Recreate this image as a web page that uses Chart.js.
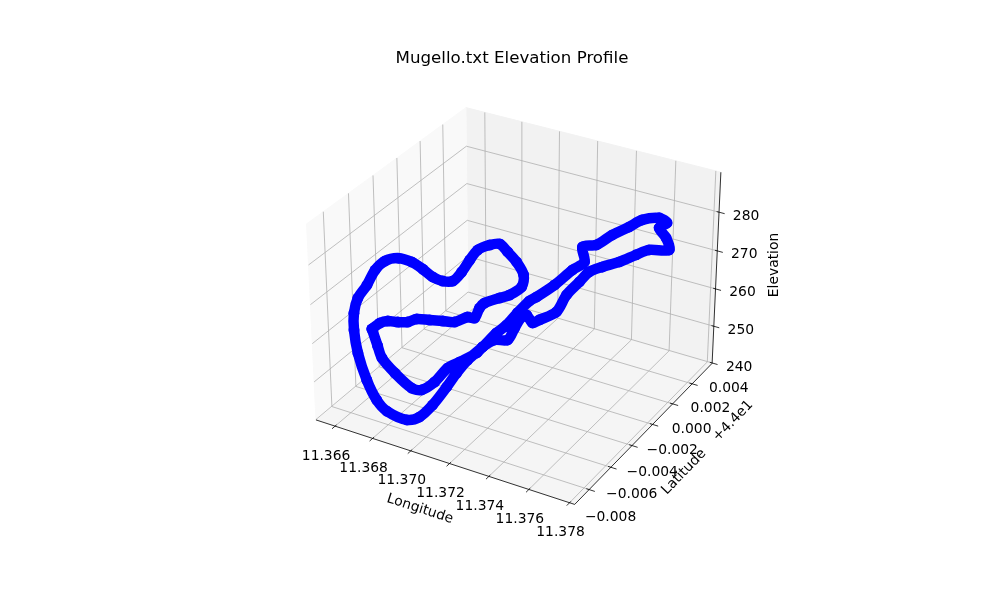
<!DOCTYPE html>
<html><head><meta charset="utf-8"><style>html,body{margin:0;padding:0;background:#fff}canvas{display:block}</style>
<script src="https://cdn.jsdelivr.net/npm/chart.js@4"></script></head>
<body><canvas id="c" width="1000" height="600"></canvas>
<script>
const title = 'Mugello.txt Elevation Profile';
const longitude = [11.36619,11.36640,11.36680,11.36724,11.36762,11.36801,11.36856,11.36911,11.36979,11.37024,
11.37056,11.37047,11.37044,11.37097,11.37122,11.37150,11.37121,11.37051,11.36987,11.36936,
11.36901,11.36878,11.36876,11.36883,11.36891,11.36852,11.36794,11.36736,11.36659,11.36606,
11.36568,11.36555,11.36578,11.36587,11.36606,11.36649,11.36697,11.36763,11.36820,11.36856,
11.36920,11.36956,11.36971,11.36980,11.36991,11.36993,11.37027,11.37053,11.37074,11.37096,
11.37124,11.37151,11.37202,11.37256,11.37318,11.37311,11.37373,11.37425,11.37489,11.37542,
11.37633,11.37701,11.37675,11.37728,11.37758,11.37649,11.37604,11.37520,11.37443,11.37381,
11.37353,11.37310,11.37295,11.37231,11.37200,11.37158,11.37131,11.37119,11.37111,11.37043,
11.37010,11.36997,11.36954,11.36917,11.36911,11.36879,11.36832,11.36733,11.36666,11.36645,11.36619];
const latitudeOffset = [-0.00434,-0.00400,-0.00395,-0.00380,-0.00357,-0.00342,-0.00321,-0.00299,-0.00309,-0.00271,
-0.00263,-0.00205,-0.00155,-0.00112,-0.00066,-0.00005,0.00064,0.00122,0.00152,0.00168,
0.00136,0.00067,-0.00001,-0.00084,-0.00175,-0.00198,-0.00189,-0.00180,-0.00149,-0.00179,
-0.00233,-0.00296,-0.00401,-0.00490,-0.00554,-0.00622,-0.00669,-0.00705,-0.00717,-0.00693,
-0.00631,-0.00582,-0.00495,-0.00386,-0.00317,-0.00223,-0.00147,-0.00066,-0.00009,0.00052,
0.00113,0.00131,0.00208,0.00279,0.00278,0.00269,0.00286,0.00341,0.00381,0.00403,
0.00392,0.00333,0.00308,0.00273,0.00246,0.00266,0.00229,0.00230,0.00214,0.00207,
0.00166,0.00125,0.00058,0.00017,0.00007,0.00026,0.00028,-0.00015,-0.00065,-0.00066,
-0.00118,-0.00149,-0.00228,-0.00272,-0.00378,-0.00438,-0.00447,-0.00430,-0.00431,-0.00432,-0.00434];
const elevation = [258,259,260,260,260,261,261,261,262,263,263,264,264,265,265,266,267,268,269,270,
270,270,269,268,268,268,268,269,269,270,270,269,268,267,265,263,259,254,250,247,
244,244,245,247,249,250,252,254,255,257,259,260,262,265,268,272,273,275,277,279,
281,282,281,280,278,276,275,272,270,268,266,263,260,258,257,258,257,255,253,252,
251,250,249,248,247,246,246,248,251,254,258];
const xTicks = [11.366,11.368,11.370,11.372,11.374,11.376,11.378];
const yTicks = [-0.008,-0.006,-0.004,-0.002,0,0.002,0.004];
const zTicks = [240,250,260,270,280];
const xLimits = [11.36497,11.37825];
const yLimits = [-0.0073,0.0061];
const zLimits = [239.9,290.15];

// matplotlib's default 3D view: elev 30, azim -60, box aspect 4:4:3, eye distance 10
const HX = .5952, HZ = .4485, CX = 517.7, CY = 296.5, SCALE = 2490;
function project(lon, lat, ele) {
  const a = ((lon - xLimits[0]) / (xLimits[1] - xLimits[0]) * 2 - 1) * HX;
  const b = ((lat - yLimits[0]) / (yLimits[1] - yLimits[0]) * 2 - 1) * HX;
  const c = ((ele - zLimits[0]) / (zLimits[1] - zLimits[0]) * 2 - 1) * HZ;
  const xv = .8660254 * a + .5 * b;
  const yv = -.25 * a + .4330127 * b + .8660254 * c;
  const d = 10 - .4330127 * a + .75 * b - .5 * c;
  return { x: CX + SCALE * xv / d, y: CY - SCALE * yv / d };
}
const [x0, x1] = xLimits, [y0, y1] = yLimits, [z0, z1] = zLimits;
const datasets = [];
function pane(color, corners) {
  datasets.push({ data: corners.map(p => project(...p)), showLine: true, fill: 'shape', backgroundColor: color,
    borderColor: color, borderWidth: 1, pointRadius: 0, tension: 0, order: 30 });
}
function seg(a, b, color, width, order) {
  datasets.push({ data: [project(...a), project(...b)], showLine: true, fill: false, borderColor: color,
    borderWidth: width, pointRadius: 0, tension: 0, order });
}
pane('#f9f9f9', [[x0,y0,z0],[x0,y1,z0],[x0,y1,z1],[x0,y0,z1],[x0,y0,z0]]);
pane('#f2f2f2', [[x0,y1,z0],[x1,y1,z0],[x1,y1,z1],[x0,y1,z1],[x0,y1,z0]]);
pane('#f5f5f5', [[x0,y0,z0],[x1,y0,z0],[x1,y1,z0],[x0,y1,z0],[x0,y0,z0]]);
const GRID = '#b0b0b0';
xTicks.forEach(t => {
  seg([t,y0,z0],[t,y1,z0],GRID,.8,20); seg([t,y1,z0],[t,y1,z1],GRID,.8,20);
  seg([t,y0-.00025,z0],[t,y0+.00012,z0],'#000',.8,10);
});
yTicks.filter(t => t >= y0).forEach(t => {
  seg([x0,t,z0],[x1,t,z0],GRID,.8,20); seg([x0,t,z0],[x0,t,z1],GRID,.8,20);
  seg([x1-.00014,t,z0],[x1+.00028,t,z0],'#000',.8,10);
});
zTicks.forEach(t => {
  seg([x0,y0,t],[x0,y1,t],GRID,.8,20); seg([x0,y1,t],[x1,y1,t],GRID,.8,20);
  seg([x1-.00012,y1,t],[x1+.00028,y1,t],'#000',.8,10);
});
seg([x0,y0,z0],[x1,y0,z0],'#000',.8,10);
seg([x1,y0,z0],[x1,y1,z0],'#000',.8,10);
seg([x1,y1,z0],[x1,y1,z1],'#000',.8,10);
datasets.push({ label: 'Track', data: longitude.map((lon,i) => project(lon, latitudeOffset[i], elevation[i])),
  showLine: true, fill: false, borderColor: '#0000ff', borderWidth: 10.5, borderJoinStyle: 'round', borderCapStyle: 'round',
  backgroundColor: '#0000ff', pointBackgroundColor: '#0000ff', pointBorderWidth: 0, pointRadius: 5.5, tension: 0.3, order: 1 });

const minus = s => s.replace('-', '\u2212');
const textPlugin = { id: 'texts', afterDraw(chart) {
  const ctx = chart.ctx;
  const put = (s, x, y, size, rot) => {
    ctx.save(); ctx.translate(x, y); ctx.rotate((rot || 0) * Math.PI / 180);
    ctx.font = size + 'px "DejaVu Sans"'; ctx.fillStyle = '#000'; ctx.textAlign = 'center'; ctx.textBaseline = 'middle';
    ctx.fillText(s, 0, 0); ctx.restore();
  };
  put(title, 512, 59, 16.67);
  xTicks.forEach(t => { const p = project(t, y0, z0); put(t.toFixed(3), p.x - 9, p.y + 30, 13.89); });
  yTicks.forEach(t => { const p = project(x1, t, z0); put(minus(t.toFixed(3)), p.x + 39 - 600 * t, p.y + 5, 13.89); });
  zTicks.forEach(t => { const p = project(x1, y1, t); put(String(t), p.x + 27, p.y + 4, 13.89); });
  put('Longitude', 420, 509, 13.89, 18);
  put('Latitude', 684, 472, 13.89, -46);
  put('+4.4e1', 733, 421, 13.89, -46);
  put('Elevation', 774, 265, 13.89, -90);
} };

new Chart(document.getElementById('c'), {
  type: 'scatter',
  data: { datasets },
  options: {
    responsive: false, animation: false, devicePixelRatio: 1,
    layout: { padding: 0, autoPadding: false },
    plugins: { legend: { display: false }, tooltip: { enabled: false }, title: { display: false } },
    scales: { x: { type: 'linear', display: false, min: 0, max: 1000 }, y: { type: 'linear', display: false, min: 0, max: 600, reverse: true } }
  },
  plugins: [textPlugin]
});
</script></body></html>
